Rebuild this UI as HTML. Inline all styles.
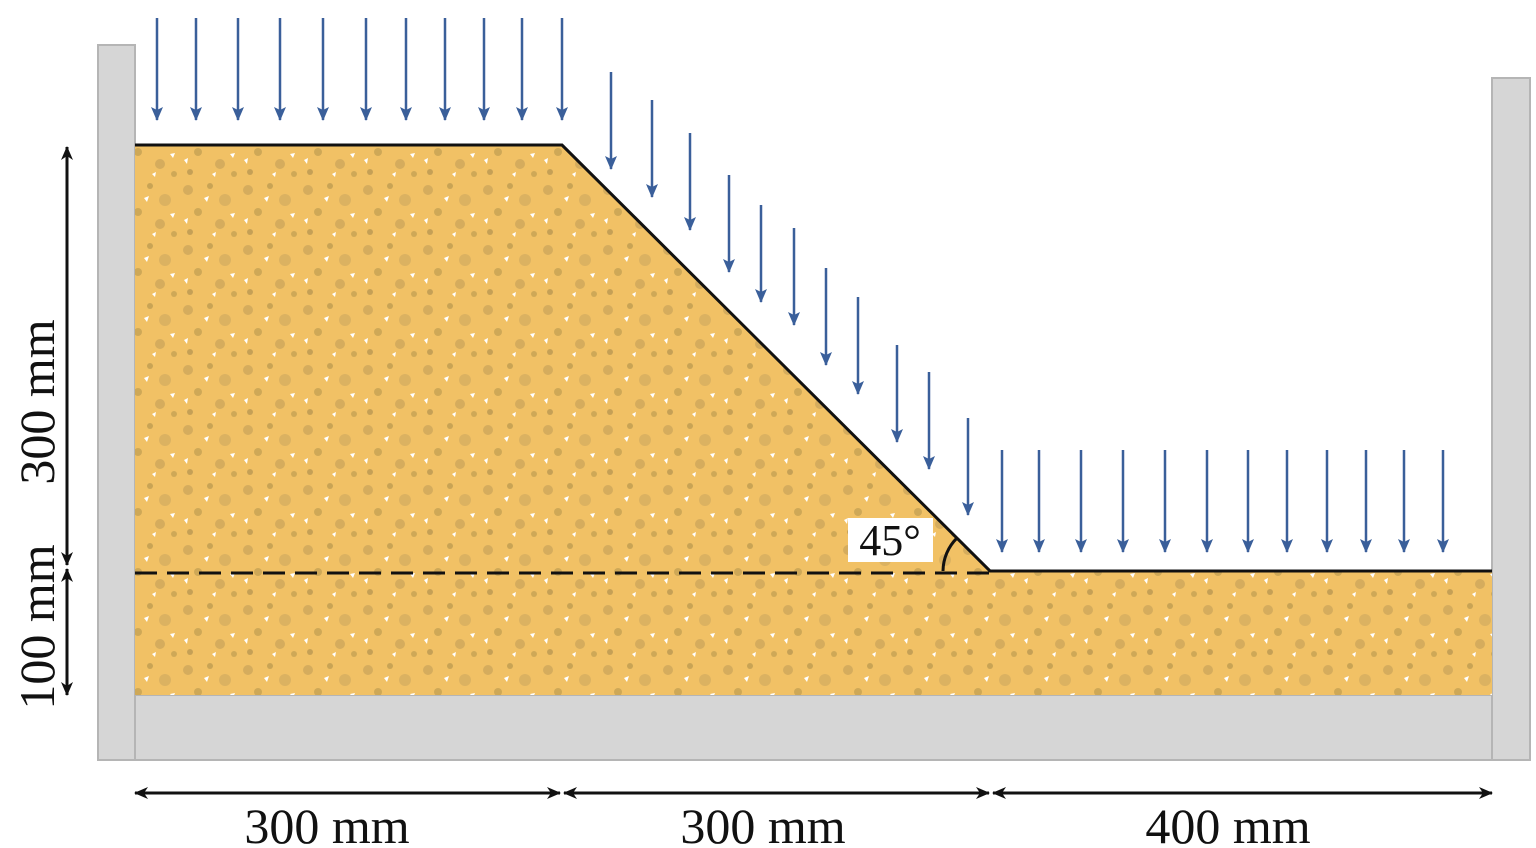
<!DOCTYPE html>
<html><head><meta charset="utf-8">
<style>
html,body{margin:0;padding:0;background:#fff;}
svg{display:block;}
text{font-family:"Liberation Serif",serif;fill:#111;}
</style></head>
<body>
<svg id="fig" width="1536" height="848" viewBox="0 0 1536 848">
<defs>
  <pattern id="soil" width="60" height="60" patternUnits="userSpaceOnUse">
    <rect width="60" height="60" fill="#f1c165"/>
    <circle cx="8" cy="10" r="5" fill="#c9a35a" opacity="0.7"/>
    <circle cx="30" cy="6" r="3" fill="#b8974f" opacity="0.7"/>
    <circle cx="45" cy="20" r="6" fill="#d2ac60" opacity="0.7"/>
    <circle cx="18" cy="32" r="4" fill="#b8974f" opacity="0.6"/>
    <circle cx="40" cy="44" r="5" fill="#c9a35a" opacity="0.7"/>
    <circle cx="10" cy="52" r="3" fill="#a88a4c" opacity="0.6"/>
    <circle cx="54" cy="54" r="3" fill="#b8974f" opacity="0.6"/>
    <polygon points="24,18 29,16 27,22" fill="#fff"/>
    <polygon points="50,34 55,33 53,38" fill="#fff"/>
    <polygon points="4,40 8,38 7,44" fill="#fff"/>
    <polygon points="32,54 36,52 35,57" fill="#fff"/>
  </pattern>
  <marker id="ah" markerWidth="14" markerHeight="12" refX="13" refY="6" orient="auto" markerUnits="userSpaceOnUse" viewBox="0 0 14 12">
    <path d="M0,0 L14,6 L0,12 L3,6 Z" fill="#3a5f9a"/>
  </marker>
  <marker id="bh" markerWidth="14" markerHeight="12" refX="13" refY="6" orient="auto-start-reverse" markerUnits="userSpaceOnUse" viewBox="0 0 14 12">
    <path d="M0,0 L14,6 L0,12 L4,6 Z" fill="#111"/>
  </marker>
</defs>

<rect x="98" y="695" width="1432" height="65" fill="#d6d6d6" stroke="#b5b5b5" stroke-width="2"/>
<rect x="98" y="45" width="37" height="715" fill="#d6d6d6" stroke="#b5b5b5" stroke-width="2"/>
<rect x="1492" y="78" width="38" height="682" fill="#d6d6d6" stroke="#b5b5b5" stroke-width="2"/>

<polygon points="135,145 562,145 990,571 1492,571 1492,695 135,695" fill="url(#soil)"/>
<polyline points="135,145 562,145 990,571 1492,571" fill="none" stroke="#111" stroke-width="3"/>
<line x1="135" y1="573" x2="990" y2="573" stroke="#111" stroke-width="3" stroke-dasharray="22,10"/>

<rect x="848" y="518" width="85" height="44" fill="#fff"/>
<text x="890" y="555" font-size="44" text-anchor="middle">45°</text>
<path d="M943,571 A47,47 0 0 1 957,538" fill="none" stroke="#111" stroke-width="3"/>

<g id="arrows"></g>

<line x1="67" y1="147" x2="67" y2="565" stroke="#111" stroke-width="3" marker-start="url(#bh)" marker-end="url(#bh)"/>
<line x1="67" y1="569" x2="67" y2="695" stroke="#111" stroke-width="3" marker-start="url(#bh)" marker-end="url(#bh)"/>
<text transform="translate(54,402) rotate(-90)" font-size="50" text-anchor="middle">300 mm</text>
<text transform="translate(54,627) rotate(-90)" font-size="50" text-anchor="middle">100 mm</text>

<line x1="135" y1="793" x2="560" y2="793" stroke="#111" stroke-width="3" marker-start="url(#bh)" marker-end="url(#bh)"/>
<line x1="564" y1="793" x2="989" y2="793" stroke="#111" stroke-width="3" marker-start="url(#bh)" marker-end="url(#bh)"/>
<line x1="993" y1="793" x2="1492" y2="793" stroke="#111" stroke-width="3" marker-start="url(#bh)" marker-end="url(#bh)"/>
<text x="327" y="843" font-size="50" text-anchor="middle">300 mm</text>
<text x="763" y="843" font-size="50" text-anchor="middle">300 mm</text>
<text x="1228" y="843" font-size="50" text-anchor="middle">400 mm</text>
</svg>
<script>
const topX=[157,196,238,280,323,366,406,445,484,522,562];
const slopeX=[611,652,690,729,761,794,826,858,897,929,968];
const slopeTop=[72,100,133,175,205,228,268,297,345,372,418];
const toeX=[1002,1039,1081,1123,1165,1207,1248,1287,1327,1366,1404,1443];
const g=document.getElementById('arrows');
function arrow(x,y1,y2,name){
  const l=document.createElementNS('http://www.w3.org/2000/svg','line');
  l.setAttribute('x1',x);l.setAttribute('x2',x);l.setAttribute('y1',y1);l.setAttribute('y2',y2);
  l.setAttribute('stroke','#3a5f9a');l.setAttribute('stroke-width','2.5');
  l.setAttribute('marker-end','url(#ah)');
  
  
  g.appendChild(l);
}
topX.forEach(x=>arrow(x,18,120,'crest-load-arrow'));
slopeX.forEach((x,i)=>arrow(x,slopeTop[i],slopeTop[i]+97,'slope-load-arrow'));
toeX.forEach(x=>arrow(x,450,552,'toe-load-arrow'));
</script>
</body></html>
